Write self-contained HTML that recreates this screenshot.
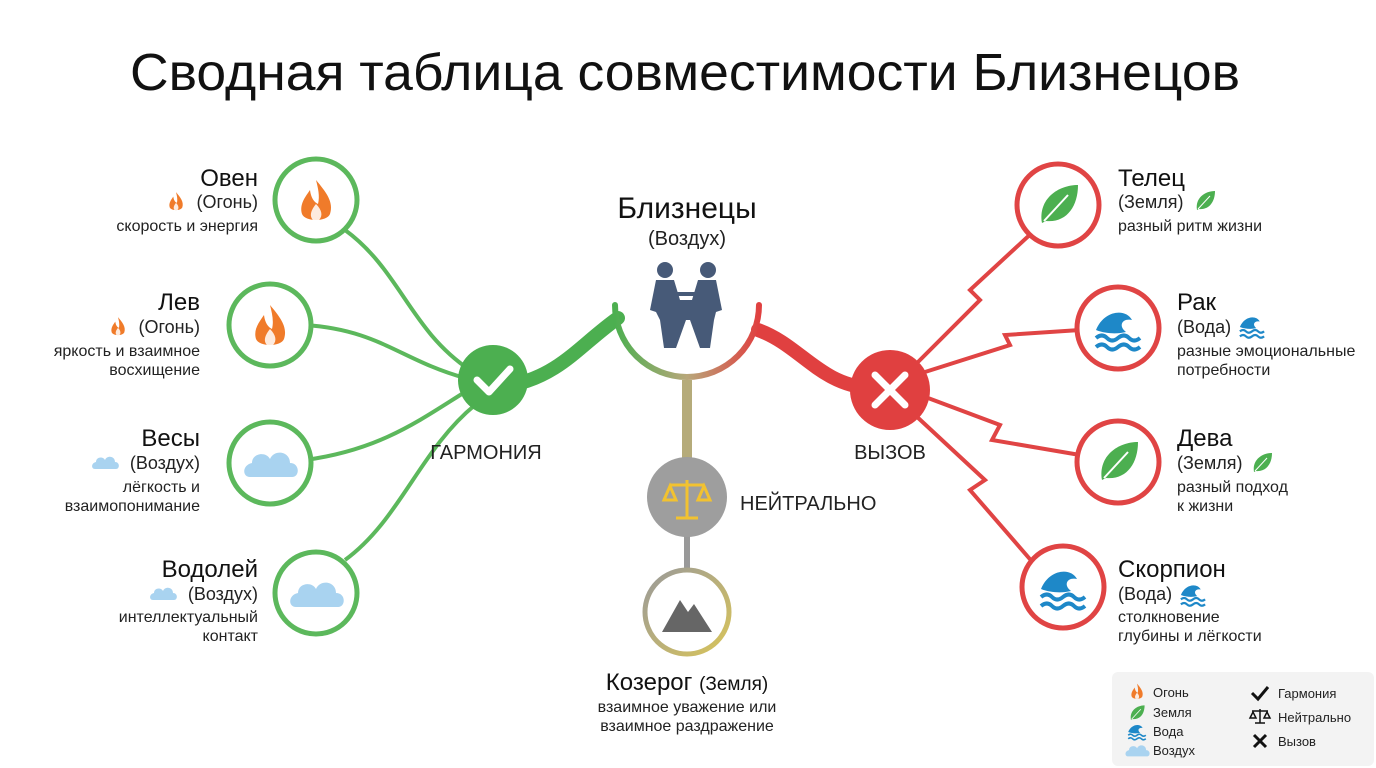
<!DOCTYPE html>
<html><head><meta charset="utf-8"><style>
html,body{margin:0;padding:0;background:#fff;}
svg{display:block;font-family:"Liberation Sans","DejaVu Sans",sans-serif;}
</style></head><body>
<svg width="1376" height="768" viewBox="0 0 1376 768" xmlns="http://www.w3.org/2000/svg">
<defs>
<linearGradient id="arc" x1="0" x2="1" y1="0" y2="0">
<stop offset="0" stop-color="#4caf50"/><stop offset="0.5" stop-color="#b8a77a"/><stop offset="1" stop-color="#e04040"/></linearGradient>
<linearGradient id="cap" x1="0" x2="1" y1="0" y2="1">
<stop offset="0" stop-color="#9a9a9a"/><stop offset="1" stop-color="#d8c45a"/></linearGradient>
<g id="fire"><path d="M0,-22 C10,-10 18,0 14,12 C11,20 -11,20 -14,12 C-17,2 -10,-6 -6,-12 C-5,-4 -2,0 2,2 C4,-6 2,-14 0,-22Z" fill="#f07b2a"/><path d="M0,2 C6,8 7,14 3,18 L-3,18 C-7,14 -5,8 0,2Z" fill="#fff" opacity="0.85"/></g>
<g id="leaf"><path d="M-16,18 C-20,-6 0,-20 20,-20 C20,2 8,18 -12,16 Z" fill="#4caf50"/><path d="M-14,16 L10,-10" stroke="#fff" stroke-width="2"/></g>
<g id="wave"><path d="M-22,0 C-14,-20 8,-22 14,-10 C4,-12 0,-4 8,2 C0,4 -12,4 -22,0Z" fill="#1e88c8"/><path d="M-22,8 q6,-5 11,0 t11,0 t11,0 t11,0" stroke="#1e88c8" stroke-width="4" fill="none"/><path d="M-22,17 q6,-5 11,0 t11,0 t11,0 t11,0" stroke="#1e88c8" stroke-width="4" fill="none"/></g>
<g id="cloud"><path d="M-22,12 C-30,12 -30,0 -20,-2 C-20,-12 -6,-14 -2,-6 C2,-16 18,-14 18,-2 C28,-2 28,12 20,12 Z" fill="#a9d3f0"/></g>
</defs>
<rect width="1376" height="768" fill="#fff"/>
<text x="130" y="90" font-size="52" textLength="1110" lengthAdjust="spacingAndGlyphs" fill="#111">Сводная таблица совместимости Близнецов</text>

<g stroke="#5cb85c" stroke-width="4" fill="none">
<path d="M345,230 C400,270 410,330 470,370"/>
<path d="M305,325 C380,330 400,360 465,378"/>
<path d="M305,460 C380,450 420,420 465,392"/>
<path d="M345,560 C400,520 420,450 475,405"/>
</g>
<path d="M512,385 C560,375 580,345 618,318" stroke="#4caf50" stroke-width="14" fill="none" stroke-linecap="round"/>
<path d="M758,330 C800,345 820,385 870,388" stroke="#e04040" stroke-width="14" fill="none" stroke-linecap="round"/>

<g stroke="#e04444" stroke-width="4" fill="none" stroke-linejoin="miter">
<polyline points="915,365 980,300 970,290 1035,230"/>
<polyline points="925,372 1010,345 1005,335 1080,330"/>
<polyline points="928,398 1000,425 992,440 1080,455"/>
<polyline points="915,415 985,480 970,490 1035,565"/>
</g>

<path d="M615,305 A72,72 0 0 0 759,305" stroke="url(#arc)" stroke-width="6" fill="none" stroke-linecap="round"/>
<line x1="687" y1="380" x2="687" y2="462" stroke="#b5ab7a" stroke-width="10"/>
<line x1="687" y1="535" x2="687" y2="572" stroke="#999" stroke-width="6"/>

<g fill="#475a78">
<circle cx="665" cy="270" r="8"/><circle cx="708" cy="270" r="8"/>
<path d="M656,280 L674,280 L680,300 L692,300 L698,280 L716,280 L722,310 L716,312 L714,320 L710,348 L700,348 L690,320 L686,320 L676,348 L664,348 L660,320 L656,312 L650,310 Z"/>
<rect x="672" y="292" width="30" height="4"/>
</g>
<text x="687" y="218" font-size="30" text-anchor="middle" fill="#111">Близнецы</text>
<text x="687" y="245" font-size="20" text-anchor="middle" fill="#222">(Воздух)</text>

<circle cx="493" cy="380" r="35" fill="#4caf50"/>
<path d="M477,380 L489,392 L510,369" stroke="#fff" stroke-width="7" fill="none" stroke-linecap="round" stroke-linejoin="round"/>
<text x="486" y="459" font-size="20" text-anchor="middle" fill="#222">ГАРМОНИЯ</text>
<circle cx="890" cy="390" r="40" fill="#e04040"/>
<path d="M875,375 L905,405 M905,375 L875,405" stroke="#fff" stroke-width="7" stroke-linecap="round"/>
<text x="890" y="459" font-size="20" text-anchor="middle" fill="#222">ВЫЗОВ</text>

<circle cx="687" cy="497" r="40" fill="#9e9e9e"/>
<g stroke="#f2c230" stroke-width="3" fill="none"><line x1="687" y1="480" x2="687" y2="517"/><line x1="670" y1="485" x2="704" y2="485"/><path d="M664,500 L670,486 L676,500 Z M698,500 L704,486 L710,500 Z"/><line x1="676" y1="518" x2="698" y2="518"/></g>
<text x="740" y="510" font-size="20" fill="#222">НЕЙТРАЛЬНО</text>

<circle cx="687" cy="612" r="42" fill="#fff" stroke="url(#cap)" stroke-width="5"/>
<path d="M662,632 L680,600 L688,612 L694,604 L712,632 Z" fill="#666"/>
<text x="687" y="690" font-size="24" text-anchor="middle" fill="#111">Козерог <tspan font-size="19">(Земля)</tspan></text>
<text x="687" y="712" font-size="16" text-anchor="middle" fill="#222">взаимное уважение или</text>
<text x="687" y="731" font-size="16" text-anchor="middle" fill="#222">взаимное раздражение</text>

<g fill="#fff" stroke="#5cb85c" stroke-width="5">
<circle cx="316" cy="200" r="41"/><circle cx="270" cy="325" r="41"/><circle cx="270" cy="463" r="41"/><circle cx="316" cy="593" r="41"/>
</g>
<use href="#fire" x="316" y="202"/><use href="#fire" x="270" y="327"/>
<use href="#cloud" x="272" y="465"/><use href="#cloud" x="318" y="595"/>

<g fill="#fff" stroke="#e04444" stroke-width="5">
<circle cx="1058" cy="205" r="41"/><circle cx="1118" cy="328" r="41"/><circle cx="1118" cy="462" r="41"/><circle cx="1063" cy="587" r="41"/>
</g>
<use href="#leaf" x="1058" y="205"/><use href="#wave" x="1118" y="330"/><use href="#leaf" x="1118" y="462"/><use href="#wave" x="1063" y="589"/>

<g text-anchor="end" fill="#222" font-size="16">
<text x="258" y="186" font-size="24" fill="#111">Овен</text>
<text x="258" y="208" font-size="18">(Огонь)</text>
<text x="258" y="231">скорость и энергия</text>
<text x="200" y="310" font-size="24" fill="#111">Лев</text>
<text x="200" y="333" font-size="18">(Огонь)</text>
<text x="200" y="356">яркость и взаимное</text>
<text x="200" y="375">восхищение</text>
<text x="200" y="446" font-size="24" fill="#111">Весы</text>
<text x="200" y="469" font-size="18">(Воздух)</text>
<text x="200" y="492">лёгкость и</text>
<text x="200" y="511">взаимопонимание</text>
<text x="258" y="577" font-size="24" fill="#111">Водолей</text>
<text x="258" y="600" font-size="18">(Воздух)</text>
<text x="258" y="622">интеллектуальный</text>
<text x="258" y="641">контакт</text>
</g>
<use href="#fire" transform="translate(176,202) scale(0.45)"/>
<use href="#fire" transform="translate(118,327) scale(0.45)"/>
<use href="#cloud" transform="translate(106,463) scale(0.5)"/>
<use href="#cloud" transform="translate(164,594) scale(0.5)"/>

<g fill="#222" font-size="16">
<text x="1118" y="186" font-size="24" fill="#111">Телец</text>
<text x="1118" y="208" font-size="18">(Земля)</text>
<text x="1118" y="231">разный ритм жизни</text>
<text x="1177" y="310" font-size="24" fill="#111">Рак</text>
<text x="1177" y="333" font-size="18">(Вода)</text>
<text x="1177" y="356">разные эмоциональные</text>
<text x="1177" y="375">потребности</text>
<text x="1177" y="446" font-size="24" fill="#111">Дева</text>
<text x="1177" y="469" font-size="18">(Земля)</text>
<text x="1177" y="492">разный подход</text>
<text x="1177" y="511">к жизни</text>
<text x="1118" y="577" font-size="24" fill="#111">Скорпион</text>
<text x="1118" y="600" font-size="18">(Вода)</text>
<text x="1118" y="622">столкновение</text>
<text x="1118" y="641">глубины и лёгкости</text>
</g>
<use href="#leaf" transform="translate(1205,201) scale(0.5)"/>
<use href="#wave" transform="translate(1252,327) scale(0.55)"/>
<use href="#leaf" transform="translate(1262,463) scale(0.5)"/>
<use href="#wave" transform="translate(1193,595) scale(0.55)"/>

<rect x="1112" y="672" width="262" height="94" rx="6" fill="#f3f3f3"/>
<g font-size="13" fill="#222">
<use href="#fire" transform="translate(1137,692) scale(0.38)"/><text x="1153" y="697">Огонь</text>
<use href="#leaf" transform="translate(1137,713) scale(0.38)"/><text x="1153" y="717">Земля</text>
<use href="#wave" transform="translate(1137,732) scale(0.4)"/><text x="1153" y="736">Вода</text>
<use href="#cloud" transform="translate(1138,751) scale(0.45)"/><text x="1153" y="755">Воздух</text>
<path d="M1252,693 L1258,699 L1268,687" stroke="#111" stroke-width="3" fill="none"/><text x="1278" y="698">Гармония</text>
<g stroke="#111" stroke-width="1.5" fill="none"><line x1="1260" y1="709" x2="1260" y2="723"/><line x1="1252" y1="711" x2="1268" y2="711"/><path d="M1250,718 l3,-6 l3,6Z M1264,718 l3,-6 l3,6Z"/><line x1="1255" y1="723" x2="1265" y2="723"/></g><text x="1278" y="722">Нейтрально</text>
<path d="M1254,735 L1266,747 M1266,735 L1254,747" stroke="#111" stroke-width="3"/><text x="1278" y="746">Вызов</text>
</g>
</svg>
</body></html>
